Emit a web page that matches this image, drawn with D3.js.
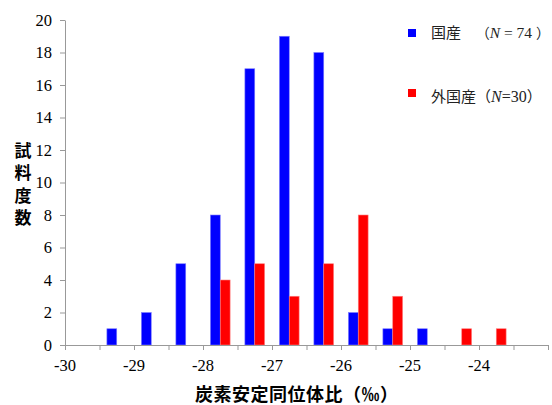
<!DOCTYPE html>
<html><head><meta charset="utf-8">
<script src="https://cdn.jsdelivr.net/npm/d3@7"></script>
<style>body{margin:0;background:#fff}</style>
</head><body>
<script>
const binStarts = [-30,-29.5,-29,-28.5,-28,-27.5,-27,-26.5,-26,-25.5,-25,-24.5,-24,-23.5];
const domestic = [0,1,2,5,8,17,19,18,2,1,1,0,0,0];
const foreign  = [0,0,0,0,4,5,3,5,8,3,0,1,1,0];
const seriesNames = ["国産","外国産"];
const seriesColors = ["#0000ff","#ff0000"];
const xTickLabels = [-30,-29,-28,-27,-26,-25,-24];
const yTicks = [0,2,4,6,8,10,12,14,16,18,20];
const yTitle = "試料度数";
const xTitle = "炭素安定同位体比（‰）";

const W=552,H=405, L=65, R=548, T=20, B=345;
const svg = d3.select("body").append("svg").attr("width",W).attr("height",H);

const xLin = d3.scaleLinear().domain([-30,-23]).range([L,R]);
const xCat = d3.scaleBand().domain(binStarts).range([L,R]).padding(0);
const xSer = d3.scaleBand().domain(seriesNames).range([0,xCat.bandwidth()]).paddingInner(0).paddingOuter(0.75);
const y = d3.scaleLinear().domain([0,20]).range([B,T]);

const serif = "Liberation Serif";
const cjk = "Noto Sans CJK JP";

// bars
[domestic, foreign].forEach((vals,si)=>{
  svg.append("g").selectAll("rect").data(binStarts.map((b,i)=>({b,v:vals[i]})).filter(d=>d.v>0))
    .join("rect")
    .attr("x",d=>xCat(d.b)+xSer(seriesNames[si]))
    .attr("width",xSer.bandwidth())
    .attr("y",d=>y(d.v))
    .attr("height",d=>y(0)-y(d.v))
    .attr("fill",seriesColors[si])
    .attr("stroke",si===0?"#7f7fff":"#ff8080").attr("stroke-width",0.6);
});

// y axis
const gy = svg.append("g").attr("transform",`translate(${L},0)`)
  .call(d3.axisLeft(y).tickValues(yTicks).tickSize(5).tickSizeOuter(0).tickPadding(8));
gy.attr("font-family",null).attr("font-size",null);
gy.select(".domain").attr("stroke","#999");
gy.selectAll(".tick line").attr("stroke","#999");
gy.selectAll(".tick text").style("font-family",serif).style("font-size","16.5px").attr("fill","#000");

// x axis
const gx = svg.append("g").attr("transform",`translate(0,${B})`)
  .call(d3.axisBottom(xLin).tickValues(binStarts.concat([-23])).tickSize(5).tickSizeOuter(0).tickFormat(()=>""));
gx.select(".domain").attr("stroke","#999");
gx.selectAll(".tick line").attr("stroke","#999");
svg.append("g").selectAll("text").data(xTickLabels).join("text")
  .attr("x",d=>xLin(d)).attr("y",371).attr("text-anchor","middle")
  .style("font-family",serif).style("font-size","16.5px").text(d=>d);

// axis titles
svg.append("text").attr("x",195).attr("y",401)
  .style("font-family",cjk).style("font-size","18px").attr("font-weight","bold")
  .attr("textLength",203).attr("lengthAdjust","spacing")
  .text(xTitle);
svg.append("text").attr("x",23).attr("y",142)
  .style("font-family",cjk).style("font-size","17px").attr("font-weight","bold")
  .style("writing-mode","vertical-rl")
  .attr("textLength",84).attr("lengthAdjust","spacing")
  .text(yTitle);

// legend
// domestic
svg.append("rect").attr("x",408).attr("y",29).attr("width",8).attr("height",8).attr("fill",seriesColors[0]);
svg.append("text").attr("x",431).attr("y",38).style("font-family",cjk).style("font-size","15px").attr("fill","#222").text(seriesNames[0]);
{
  const t = svg.append("text").attr("x",550).attr("y",38).attr("text-anchor","end")
    .style("font-family",serif).style("font-size","15.5px").attr("fill","#222");
  t.append("tspan").style("font-family",cjk).style("font-size","14px").text("（");
  t.append("tspan").attr("font-style","italic").text("N");
  t.append("tspan").text(" = " + d3.sum(domestic) + " ");
  t.append("tspan").style("font-family",cjk).style("font-size","14px").text("）");
}
// foreign
svg.append("rect").attr("x",408).attr("y",89).attr("width",8).attr("height",8).attr("fill",seriesColors[1]);
{
  const t = svg.append("text").attr("x",431).attr("y",102).style("font-family",serif).style("font-size","16px").attr("fill","#222");
  t.append("tspan").style("font-family",cjk).style("font-size","15px").text(seriesNames[1] + "（");
  t.append("tspan").attr("font-style","italic").text("N");
  t.append("tspan").text("=" + d3.sum(foreign));
  t.append("tspan").style("font-family",cjk).style("font-size","15px").text("）");
}
</script>
</body></html>
